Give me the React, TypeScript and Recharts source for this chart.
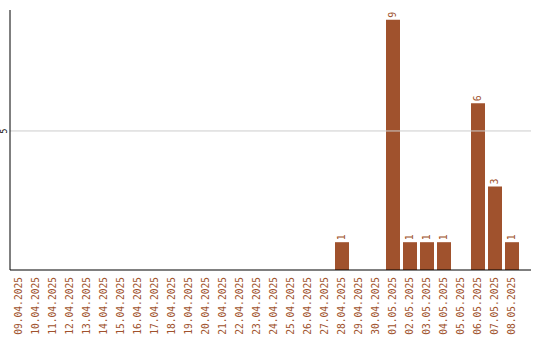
import React from "react";
import { BarChart, Bar, XAxis, YAxis, ReferenceLine, LabelList } from "recharts";

const dates = [
  "09.04.2025", "10.04.2025", "11.04.2025", "12.04.2025", "13.04.2025",
  "14.04.2025", "15.04.2025", "16.04.2025", "17.04.2025", "18.04.2025",
  "19.04.2025", "20.04.2025", "21.04.2025", "22.04.2025", "23.04.2025",
  "24.04.2025", "25.04.2025", "26.04.2025", "27.04.2025", "28.04.2025",
  "29.04.2025", "30.04.2025", "01.05.2025", "02.05.2025", "03.05.2025",
  "04.05.2025", "05.05.2025", "06.05.2025", "07.05.2025", "08.05.2025",
];
const counts = [
  0, 0, 0, 0, 0, 0, 0, 0, 0, 0,
  0, 0, 0, 0, 0, 0, 0, 0, 0, 1,
  0, 0, 9, 1, 1, 1, 0, 6, 3, 1,
];
const yTicks = [5];

const data = dates.map((d, i) => ({ date: d, count: counts[i] }));

const BROWN = "#a0522d";
const FONT = "'DejaVu Sans Mono', monospace";

const DateTick = (props: any) => {
  const { x, y, payload } = props;
  const ty = y - 1;
  return (
    <text
      x={x}
      y={ty}
      transform={`rotate(-90, ${x}, ${ty})`}
      textAnchor="end"
      dominantBaseline="central"
      fill={BROWN}
      fontSize={9.6}
      fontFamily={FONT}
    >
      {payload.value}
    </text>
  );
};

const CountTick = (props: any) => {
  const { y, payload } = props;
  const tx = 5;
  return (
    <text
      x={tx}
      y={y}
      transform={`rotate(-90, ${tx}, ${y})`}
      textAnchor="middle"
      dominantBaseline="central"
      fill="#000"
      fontSize={8}
      fontFamily={FONT}
    >
      {payload.value}
    </text>
  );
};

const ValueLabel = (props: any) => {
  const { x, y, width, value } = props;
  if (!value) return null;
  const cx = x + width / 2;
  const ty = y - 2;
  return (
    <text
      x={cx}
      y={ty}
      transform={`rotate(-90, ${cx}, ${ty})`}
      textAnchor="start"
      dominantBaseline="central"
      fill={BROWN}
      fontSize={10}
      fontFamily={FONT}
    >
      {value}
    </text>
  );
};

export default function App() {
  return (
    <div style={{ position: "absolute", left: 0, top: 0, background: "#fff" }}>
      <BarChart
        width={540}
        height={340}
        data={data}
        margin={{ top: 10, right: 9, left: 0, bottom: 0 }}
        barSize={14}
      >
        <ReferenceLine y={5} stroke="#cccccc" />
        <XAxis
          dataKey="date"
          interval={0}
          height={70}
          padding={{ left: 0, right: 11 }}
          axisLine={{ stroke: "#000" }}
          tickLine={false}
          tick={<DateTick />}
        />
        <YAxis
          width={10}
          domain={[0, 9.35]}
          ticks={yTicks}
          axisLine={{ stroke: "#000" }}
          tickLine={false}
          tick={<CountTick />}
        />
        <Bar dataKey="count" fill={BROWN} isAnimationActive={false}>
          <LabelList dataKey="count" content={<ValueLabel />} />
        </Bar>
      </BarChart>
    </div>
  );
}
